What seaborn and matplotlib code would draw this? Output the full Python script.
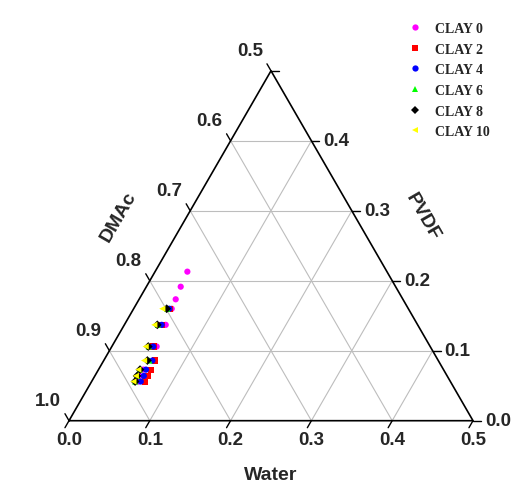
"""Ternary phase diagram (cloud points) for PVDF / DMAc / Water with clay loading."""

import matplotlib

matplotlib.use("Agg")
import matplotlib.pyplot as plt
import numpy as np
import pandas as pd
import seaborn as sns

# ---------------------------------------------------------------------------
# Data (mass fractions)
# ---------------------------------------------------------------------------

SERIES = ["CLAY 0", "CLAY 2", "CLAY 4", "CLAY 6", "CLAY 8", "CLAY 10"]
PVDF_ROWS = [0.160, 0.137, 0.106, 0.086, 0.073, 0.064, 0.056]
CLAY0_EXTRA_PVDF = [0.213, 0.1915, 0.1735]
CLAY0_EXTRA_WATER = [0.040, 0.0425, 0.0453]

CLAY0_WATER = [0.0471, 0.0512, 0.0555, 0.0620, 0.0555, 0.0557, 0.0579]
CLAY2_WATER = [0.0445, 0.0465, 0.0515, 0.0635, 0.0646, 0.0659, 0.0662]
CLAY4_WATER = [0.0441, 0.0462, 0.0513, 0.0602, 0.0588, 0.0606, 0.0608]
CLAY6_WATER = [0.0415, 0.0415, 0.0458, 0.0565, 0.0510, 0.0525, 0.0540]
CLAY8_WATER = [0.0409, 0.0408, 0.0451, 0.0540, 0.0514, 0.0523, 0.0538]
CLAY10_WATER = [0.0355, 0.0371, 0.0419, 0.0499, 0.0493, 0.0507, 0.0517]

AXIS_TICKS = [0.0, 0.1, 0.2, 0.3, 0.4, 0.5]

COLOURS = ["#FF00FF", "#FF0000", "#0000FF", "#00FF00", "#000000", "#FFFF00"]
MARKERS = ["o", "s", "o", "^", "D", "<"]

SQ3 = np.sqrt(3) / 2


def to_xy(water, pvdf):
    """Ternary (water, pvdf) -> cartesian; DMAc = 1 - water - pvdf."""
    water = np.asarray(water, dtype=float)
    pvdf = np.asarray(pvdf, dtype=float)
    return water + pvdf / 2, pvdf * SQ3


# ---------------------------------------------------------------------------
# Build long table
# ---------------------------------------------------------------------------

waters = [CLAY0_EXTRA_WATER + CLAY0_WATER, CLAY2_WATER, CLAY4_WATER,
          CLAY6_WATER, CLAY8_WATER, CLAY10_WATER]
pvdfs = [CLAY0_EXTRA_PVDF + PVDF_ROWS] + [PVDF_ROWS] * 5

frames = []
for name, w, p in zip(SERIES, waters, pvdfs):
    x, y = to_xy(w, p)
    frames.append(pd.DataFrame({"x": x, "y": y, "series": name}))
df = pd.concat(frames, ignore_index=True)

# ---------------------------------------------------------------------------
# Figure
# ---------------------------------------------------------------------------

sns.set_style("white")
plt.rcParams["font.family"] = ["Liberation Sans", "DejaVu Sans"]

W, H = 513, 485
PX = 808.0  # pixels per composition unit
X0, Y0 = 69.0, 63.3  # pixel position of the (water=0, pvdf=0) corner

fig = plt.figure(figsize=(W / 100, H / 100), dpi=100)
ax = fig.add_axes([0, 0, 1, 1])
ax.set_xlim(-X0 / PX, (W - X0) / PX)
ax.set_ylim(-Y0 / PX, (H - Y0) / PX)
ax.axis("off")

grid_kw = dict(color="#BDBDBD", lw=0.8, zorder=1)
for t in AXIS_TICKS[1:-1]:
    # constant PVDF
    ax.plot(*to_xy([0, 0.5 - t], [t, t]), **grid_kw)
    # constant water
    ax.plot(*to_xy([t, t], [0, 0.5 - t]), **grid_kw)
    # constant DMAc
    ax.plot(*to_xy([t, 0], [0, t]), **grid_kw)

# triangle frame
ax.plot(*to_xy([0, 0.5, 0, 0], [0, 0, 0.5, 0]), color="black", lw=1.2, zorder=2)

L = 0.010
tick_kw = dict(color="black", lw=1.0, zorder=2)
label_kw = dict(fontsize=13.5, fontweight="bold")
for t in AXIS_TICKS:
    # bottom: water
    bx, by = to_xy(t, 0)
    ax.plot([bx, bx - 0.5 * L], [by, by - SQ3 * L], **tick_kw)
    ax.text(bx, by - 0.023, f"{t:.1f}", ha="center", va="center", **label_kw)
    # right: PVDF (apex label is shared with DMAc 0.5)
    rx, ry = to_xy(0.5 - t, t)
    ax.plot([rx, rx + L], [ry, ry], **tick_kw)
    if t < 0.5:
        ax.text(rx + 0.0148, ry, f"{t:.1f}", ha="left", va="center", **label_kw)
    # left: DMAc (1 - pvdf on the left edge)
    lx, ly = to_xy(0, t)
    ax.plot([lx, lx - 0.5 * L], [ly, ly + SQ3 * L], **tick_kw)
    ax.text(lx - 0.026, ly + 0.025, f"{1 - t:.1f}", ha="center", va="center", **label_kw)

title_kw = dict(fontsize=14, fontweight="bold", ha="center", va="center")
ax.text(0.25, -0.066, "Water", **title_kw)
ax.text(0.0619, 0.254, "DMAc", rotation=60, **title_kw)
ax.text(0.438, 0.253, "PVDF", rotation=-60, **title_kw)

sns.scatterplot(
    data=df, x="x", y="y", hue="series", style="series",
    hue_order=SERIES, style_order=SERIES,
    palette=dict(zip(SERIES, COLOURS)), markers=dict(zip(SERIES, MARKERS)),
    s=20, linewidth=0, ax=ax, zorder=3,
)

handles, labels = ax.get_legend_handles_labels()
for h in handles:
    h.set_markersize(4.5)
    h.set_markeredgewidth(0)
ax.legend(
    handles, labels, loc="upper left",
    bbox_to_anchor=(408 / W, 1 - 23 / H), bbox_transform=fig.transFigure,
    frameon=False, borderpad=0, borderaxespad=0, handlelength=1.0,
    handletextpad=0.95, labelspacing=0.55,
    prop={"family": "Liberation Serif", "weight": "bold", "size": 10},
)

fig.savefig("out.png", dpi=100)
